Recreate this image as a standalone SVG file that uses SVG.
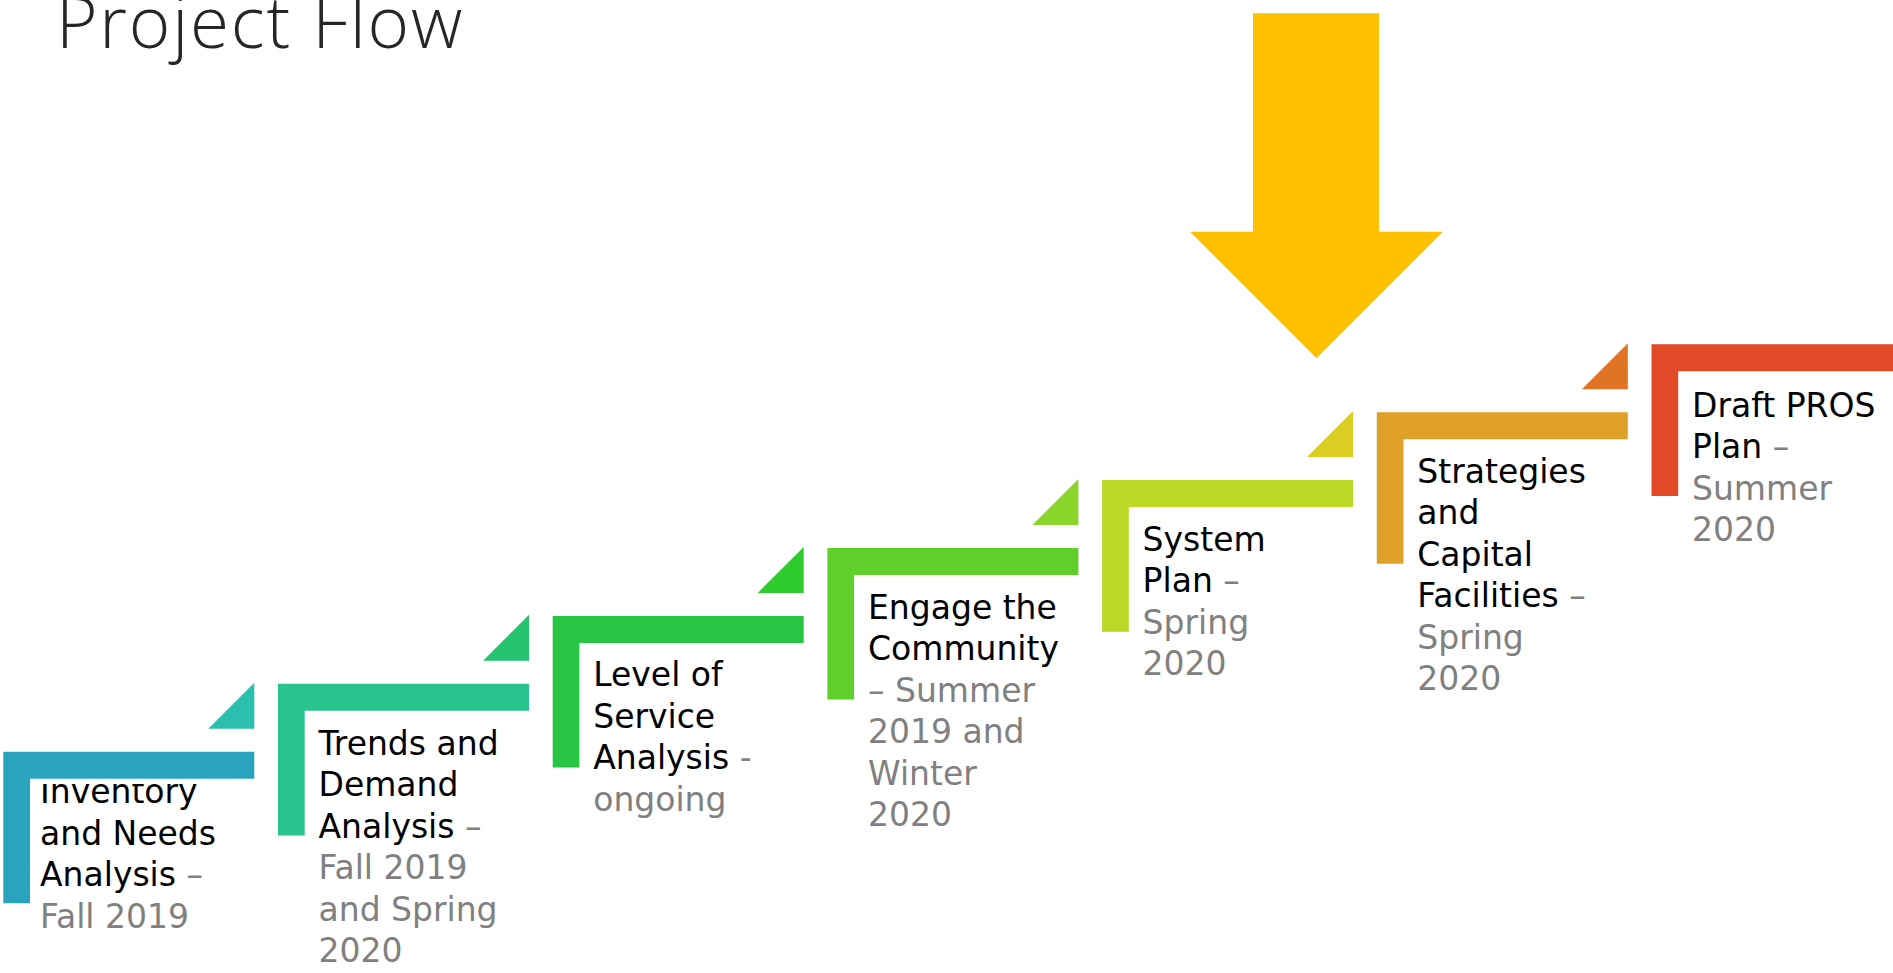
<svg xmlns="http://www.w3.org/2000/svg" width="1893" height="973" viewBox="0 0 1893 973">
<style>
.title{font-family:"Open Sans","Liberation Sans",sans-serif;font-weight:300;font-size:71px;fill:#262626;letter-spacing:1.8px}
.t{font-family:"DejaVu Sans","Liberation Sans",sans-serif;font-size:33px;fill:#000000}
.g{fill:#808080}
.b1{fill:#2aa4bd}.b2{fill:#28c38e}.b3{fill:#27c645}.b4{fill:#5fcf2a}.b5{fill:#bbd827}.b6{fill:#dea026}.b7{fill:#e04a26}
.c1{fill:#2bbfb0}.c2{fill:#26c470}.c3{fill:#2ecb2e}.c4{fill:#8bd42a}.c5{fill:#dccd22}.c6{fill:#e07326}
.arrow{fill:#ffc000}
</style>
<defs>
<clipPath id="clip1"><rect x="0" y="784" width="300" height="189"/></clipPath>
</defs>
<text class="title" x="56" y="47.7">Project Flow</text>

<g id="pointer"><polygon class="arrow" points="1253,13.3 1379,13.3 1379,231.7 1443,231.7 1316.5,358.3 1190,231.7 1253,231.7"/></g>

<g id="connectors">
<polygon class="c1" points="208.3,728.7 254.3,682.7 254.3,728.7"/>
<polygon class="c2" points="483,660.8 529,614.8 529,660.8"/>
<polygon class="c3" points="757.7,592.9 803.7,546.9 803.7,592.9"/>
<polygon class="c4" points="1032.4,525 1078.4,479 1078.4,525"/>
<polygon class="c5" points="1307.1,457.1 1353.1,411.1 1353.1,457.1"/>
<polygon class="c6" points="1581.8,389.2 1627.8,343.2 1627.8,389.2"/>
</g>

<g id="step1">
<text class="t" x="40" clip-path="url(#clip1)"><tspan x="40" y="803">Inventory</tspan><tspan x="40" y="844.5">and Needs</tspan><tspan x="40" y="886">Analysis <tspan class="g">–</tspan></tspan><tspan class="g" x="40" y="927.5">Fall 2019</tspan></text>
<path class="b1" d="M3.3 751.7h251v27h-224.3v124.6h-26.7z"/>
</g>

<g id="step2">
<text class="t"><tspan x="318.5" y="754.5">Trends and</tspan><tspan x="318.5" y="796">Demand</tspan><tspan x="318.5" y="837.5">Analysis <tspan class="g">–</tspan></tspan><tspan class="g" x="318.5" y="879">Fall 2019</tspan><tspan class="g" x="318.5" y="920.5">and Spring</tspan><tspan class="g" x="318.5" y="962">2020</tspan></text>
<path class="b2" d="M278 683.8h251v27h-224.3v124.6h-26.7z"/>
</g>

<g id="step3">
<text class="t"><tspan x="593.2" y="686.4">Level of</tspan><tspan x="593.2" y="727.9">Service</tspan><tspan x="593.2" y="769.4">Analysis <tspan class="g">-</tspan></tspan><tspan class="g" x="593.2" y="810.9">ongoing</tspan></text>
<path class="b3" d="M552.7 615.9h251v27h-224.3v124.6h-26.7z"/>
</g>

<g id="step4">
<text class="t"><tspan x="868" y="618.5">Engage the</tspan><tspan x="868" y="660">Community</tspan><tspan class="g" x="868" y="701.5">– Summer</tspan><tspan class="g" x="868" y="743">2019 and</tspan><tspan class="g" x="868" y="784.5">Winter</tspan><tspan class="g" x="868" y="826">2020</tspan></text>
<path class="b4" d="M827.4 548h251v27h-224.3v124.6h-26.7z"/>
</g>

<g id="step5">
<text class="t"><tspan x="1142.6" y="550.6">System</tspan><tspan x="1142.6" y="592.1">Plan <tspan class="g">–</tspan></tspan><tspan class="g" x="1142.6" y="633.6">Spring</tspan><tspan class="g" x="1142.6" y="675.1">2020</tspan></text>
<path class="b5" d="M1102.1 480.1h251v27h-224.3v124.6h-26.7z"/>
</g>

<g id="step6">
<text class="t"><tspan x="1417.3" y="482.7">Strategies</tspan><tspan x="1417.3" y="524.2">and</tspan><tspan x="1417.3" y="565.7">Capital</tspan><tspan x="1417.3" y="607.2">Facilities <tspan class="g">–</tspan></tspan><tspan class="g" x="1417.3" y="648.7">Spring</tspan><tspan class="g" x="1417.3" y="690.2">2020</tspan></text>
<path class="b6" d="M1376.8 412.2h251v27h-224.3v124.6h-26.7z"/>
</g>

<g id="step7">
<text class="t"><tspan x="1692" y="416.5">Draft PROS</tspan><tspan x="1692" y="458">Plan <tspan class="g">–</tspan></tspan><tspan class="g" x="1692" y="499.5">Summer</tspan><tspan class="g" x="1692" y="541">2020</tspan></text>
<path class="b7" d="M1651.5 344.3h251v27h-224.3v124.6h-26.7z"/>
</g>
</svg>
